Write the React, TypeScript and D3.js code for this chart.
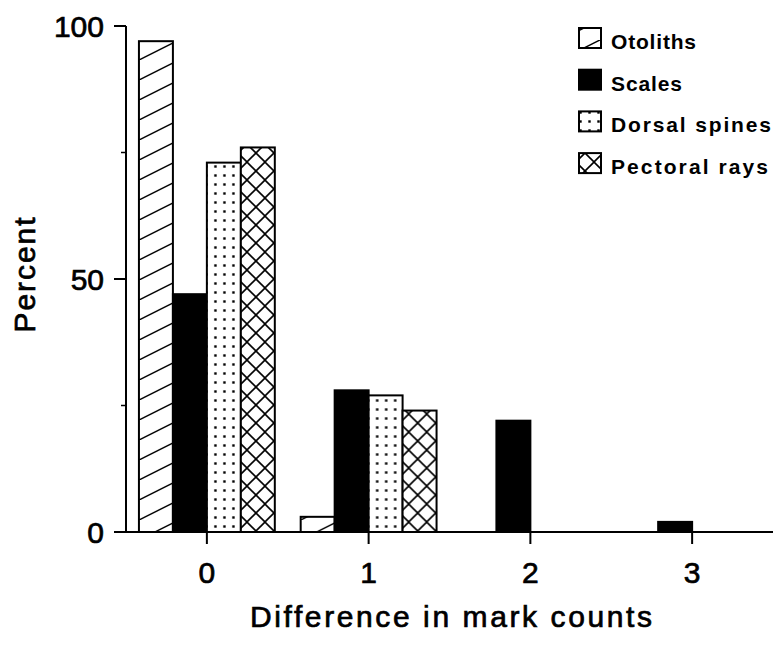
import * as d3 from "d3";

const categories = ["0", "1", "2", "3"];
const seriesNames = ["Otoliths", "Scales", "Dorsal spines", "Pectoral rays"];
const otoliths = [97, 3, 0, 0];
const scales = [47, 28, 22, 2];
const dorsalSpines = [73, 27, 0, 0];
const pectoralRays = [76, 24, 0, 0];
const majorTicks = [0, 50, 100];
const minorTicks = [25, 75];

const seriesValues = [otoliths, scales, dorsalSpines, pectoralRays];
const fills = ["url(#hatch)", "#000", "url(#dots)", "url(#cross)"];
// legend label widths
const legendWidths = [85, 71, 160, 157];

export default function App() {
  const width = 775;
  const height = 646;
  const left = 126;
  const right = 773;
  const top = 26;
  const bottom = 532;
  const font = "'Liberation Sans', Arial, Helvetica, sans-serif";

  const x = d3.scaleBand().domain(categories).range([left, right]).paddingInner(0.16).paddingOuter(0.08);
  const inner = d3.scaleBand().domain(seriesNames).range([0, x.bandwidth()]);
  const y = d3.scaleLinear().domain([0, 100]).range([bottom, top]);

  const txt = { fontFamily: font, stroke: "#000", strokeWidth: 0.7 };

  return (
    <svg width={width} height={height} style={{ position: "absolute", left: 0, top: 0, background: "#fff" }}>
      <defs>
        <pattern id="hatch" patternUnits="userSpaceOnUse" width={40} height={20}>
          <rect width={40} height={20} fill="#fff" />
          <line x1={0} y1={20} x2={40} y2={0} stroke="#000" strokeWidth={1.5} />
        </pattern>
        <pattern id="dots" patternUnits="userSpaceOnUse" width={9} height={9}>
          <rect width={9} height={9} fill="#fff" />
          <rect x={3.3} y={3.3} width={2.4} height={2.4} fill="#000" />
        </pattern>
        <pattern id="cross" patternUnits="userSpaceOnUse" width={18} height={18}>
          <rect width={18} height={18} fill="#fff" />
          <line x1={0} y1={0} x2={18} y2={18} stroke="#000" strokeWidth={1.6} />
          <line x1={18} y1={0} x2={0} y2={18} stroke="#000" strokeWidth={1.6} />
        </pattern>
      </defs>

      {/* bars */}
      {categories.map((c, ci) => (
        <g key={c} transform={`translate(${x(c)},0)`}>
          {seriesNames.map((s, si) => {
            const v = seriesValues[si][ci];
            if (v <= 0) return null;
            return (
              <rect
                key={s}
                x={inner(s)}
                y={y(v)}
                width={inner.bandwidth()}
                height={y(0) - y(v)}
                fill={fills[si]}
                stroke="#000"
                strokeWidth={2}
              />
            );
          })}
        </g>
      ))}

      {/* y axis */}
      <line x1={left} x2={left} y1={y(100)} y2={y(0)} stroke="#000" strokeWidth={2} />
      {majorTicks.map(t => (
        <g key={t}>
          <line x1={left - 12} x2={left} y1={y(t)} y2={y(t)} stroke="#000" strokeWidth={2} />
          <text x={left - 22} y={y(t)} dy="0.36em" textAnchor="end" fontSize={30} {...txt}>{t}</text>
        </g>
      ))}
      {minorTicks.map(t => (
        <line key={t} x1={left - 5} x2={left} y1={y(t)} y2={y(t)} stroke="#000" strokeWidth={1.5} />
      ))}
      <text transform={`translate(35,275) rotate(-90)`} textAnchor="middle" fontSize={30} textLength={115} lengthAdjust="spacing" {...txt}>Percent</text>

      {/* x axis */}
      <line x1={left} x2={right} y1={bottom} y2={bottom} stroke="#000" strokeWidth={2} />
      {categories.map(c => {
        const cx = (x(c) ?? 0) + x.bandwidth() / 2;
        return (
          <g key={c}>
            <line x1={cx} x2={cx} y1={bottom} y2={bottom + 12} stroke="#000" strokeWidth={2} />
            <text x={cx} y={583} textAnchor="middle" fontSize={30} {...txt}>{c}</text>
          </g>
        );
      })}
      <text x={451} y={627} textAnchor="middle" fontSize={30} textLength={402} lengthAdjust="spacing" {...txt}>Difference in mark counts</text>

      {/* legend */}
      {seriesNames.map((s, i) => {
        const ly = 28 + i * 41.7;
        return (
          <g key={s}>
            <rect x={579} y={ly} width={22} height={20} fill={fills[i]} stroke="#000" strokeWidth={2} />
            <text x={611} y={ly + 21} fontFamily={font} fontWeight="bold" fontSize={21} textLength={legendWidths[i]} lengthAdjust="spacing">{s}</text>
          </g>
        );
      })}
    </svg>
  );
}
